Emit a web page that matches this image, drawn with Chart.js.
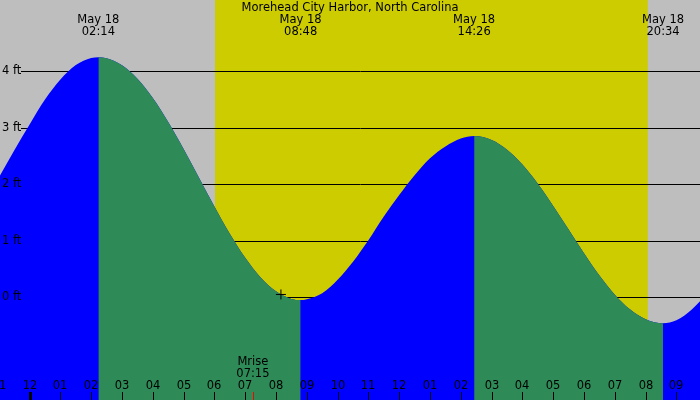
<!DOCTYPE html>
<html>
<head>
<meta charset="utf-8">
<script src="https://cdn.jsdelivr.net/npm/chart.js@4/dist/chart.umd.min.js"></script>
<style>
  body { margin: 0; background: #bebebe; }
  canvas { display: block; }
</style>
</head>
<body>
<canvas id="tide" width="700" height="400"></canvas>
<script>
// Tide chart, hours since midnight May 18

var title = "Morehead City Harbor, North Carolina";
var dayLabel = "May 18";

// water level (ft)
var tideHours = [-1, -0.5, 0, 0.5, 1, 1.5, 2, 2.233, 2.5, 3, 3.5, 4, 4.5, 5, 5.5, 6, 6.5, 7, 7.5, 8, 8.5, 8.8,
  9, 9.5, 10, 10.5, 11, 11.5, 12, 12.5, 13, 13.5, 14, 14.433, 15, 15.5, 16, 16.5, 17, 17.5, 18, 18.5, 19, 19.5, 20, 20.567,
  21, 21.5, 22];
var tideFeet = [2.12, 2.6, 3.06, 3.5, 3.855, 4.11, 4.235, 4.25, 4.23, 4.107, 3.87, 3.528, 3.104, 2.625, 2.117, 1.608, 1.126, 0.7, 0.352, 0.107, -0.03, -0.05,
  -0.035, 0.07, 0.31, 0.63, 1.01, 1.43, 1.81, 2.16, 2.46, 2.67, 2.81, 2.855, 2.785, 2.613, 2.35, 2.01, 1.617, 1.2, 0.778, 0.385, 0.046, -0.218, -0.39, -0.46,
  -0.407, -0.215, 0.07];

var extremeHours = [2.233, 8.8, 14.433, 20.567];
var extremeTimes = ["02:14", "08:48", "14:26", "20:34"];

var sunrise = 6.02, sunset = 20.07;
var moonrise = 7.25, moonriseText = "07:15";

var markHour = [8.16];
var markFeet = [0.05];

var hourTicks = [-1, 0, 1, 2, 3, 4, 5, 6, 7, 8, 9, 10, 11, 12, 13, 14, 15, 16, 17, 18, 19, 20, 21];
var hourLabels = ["11", "12", "01", "02", "03", "04", "05", "06", "07", "08", "09", "10", "11", "12", "01", "02", "03", "04", "05", "06", "07", "08", "09"];
var feetTicks = [0, 1, 2, 3, 4];

var font = "11.5px 'DejaVu Sans', sans-serif";

var decor = {
  id: 'decor',
  beforeDatasetsDraw: function(chart) {
    var c = chart.ctx, x = chart.scales.x, y = chart.scales.y;
    c.save();
    c.fillStyle = '#bebebe';
    c.fillRect(0, 0, 700, 400);
    c.fillStyle = '#cccc00';
    var x0 = x.getPixelForValue(sunrise), x1 = x.getPixelForValue(sunset);
    c.fillRect(x0, 0, x1 - x0, 400);
    c.strokeStyle = '#000';
    c.lineWidth = 1;
    feetTicks.forEach(function(f) {
      var py = Math.round(y.getPixelForValue(f)) + 0.5;
      c.beginPath();
      c.moveTo(21, py);
      c.lineTo(700, py);
      c.stroke();
    });
    c.restore();
  },
  afterDatasetsDraw: function(chart) {
    var c = chart.ctx, x = chart.scales.x, y = chart.scales.y;
    c.save();
    c.font = font;
    c.fillStyle = '#000';
    c.textBaseline = 'middle';
    c.textAlign = 'left';
    feetTicks.forEach(function(f) {
      c.fillText(f + " ft", 2, y.getPixelForValue(f));
    });
    c.textAlign = 'center';
    c.fillText(title, 350, 8);
    extremeHours.forEach(function(h, i) {
      var px = x.getPixelForValue(h);
      c.fillText(dayLabel, px, 20);
      c.fillText(extremeTimes[i], px, 32);
    });
    hourTicks.forEach(function(h, i) {
      var px = Math.round(x.getPixelForValue(h));
      c.fillText(hourLabels[i], px, 386);
      c.fillRect(h === 0 ? px - 1 : px, 392, h === 0 ? 3 : 1, 8);
    });
    var mx = x.getPixelForValue(moonrise);
    c.fillText("Mrise", mx, 362);
    c.fillText(moonriseText, mx, 374);
    c.fillStyle = '#ff0000';
    c.fillRect(Math.round(mx), 392, 1, 8);
    c.restore();
  }
};

var tidePoints = tideHours.map(function(h, i) { return { x: h, y: tideFeet[i] }; });

new Chart(document.getElementById('tide'), {
  type: 'line',
  data: {
    datasets: [
      {
        data: markHour.map(function(h, i) { return { x: h, y: markFeet[i] }; }),
        showLine: false,
        pointStyle: 'cross',
        pointRadius: 5,
        borderColor: '#000',
        borderWidth: 1,
        order: 0
      },
      {
        // falling water, drawn over the rising fill
        data: tidePoints,
        borderColor: 'rgba(0,0,0,0)',
        borderWidth: 0,
        pointRadius: 0,
        fill: 'start',
        backgroundColor: '#2e8b57',
        cubicInterpolationMode: 'monotone',
        segment: {
          backgroundColor: function(s) { return s.p1.parsed.y >= s.p0.parsed.y ? 'rgba(0,0,0,0)' : '#2e8b57'; }
        },
        order: 1
      },
      {
        data: tidePoints,
        borderColor: 'rgba(0,0,0,0)',
        borderWidth: 0,
        pointRadius: 0,
        fill: 'start',
        backgroundColor: '#0000ff',
        cubicInterpolationMode: 'monotone',
        order: 2
      }
    ]
  },
  options: {
    responsive: false,
    animation: false,
    devicePixelRatio: 1,
    layout: { padding: 0, autoPadding: false },
    scales: {
      x: { type: 'linear', min: -0.961, max: 21.766, display: false },
      y: { min: -1.818, max: 5.262, display: false }
    },
    plugins: { legend: { display: false }, tooltip: { enabled: false } }
  },
  plugins: [decor]
});
</script>
</body>
</html>
